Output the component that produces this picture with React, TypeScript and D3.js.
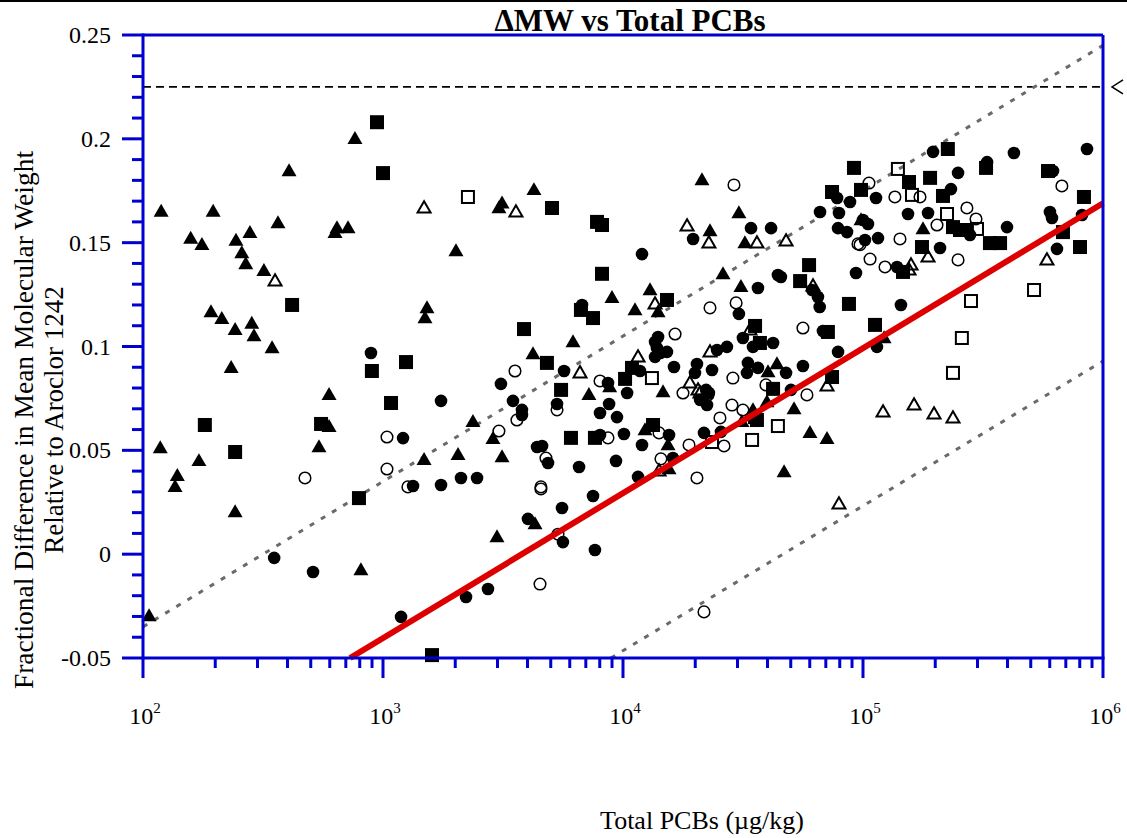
import React from "react";
import * as d3 from "d3";

// ---- data (Total PCBs in µg/kg, fractional ΔMW) ----
const filledTriangles: [number, number][] = [
  [764, 0.2], [406, 0.1845], [119, 0.165], [196, 0.165], [365, 0.1595], [643, 0.157], [715, 0.157],
  [631, 0.1547], [279, 0.1547], [158, 0.152], [176, 0.149], [244, 0.151], [258, 0.145], [268, 0.1397],
  [319, 0.1364], [192, 0.1166], [213, 0.1133], [242, 0.108], [284, 0.111], [290, 0.105], [345, 0.0993],
  [233, 0.0897], [596, 0.0767], [596, 0.0613], [118, 0.0511], [541, 0.0516], [171, 0.0449], [139, 0.0377],
  [136, 0.0324], [242, 0.0203], [809, -0.0076], [106, -0.0298],
  [3133, 0.169], [3041, 0.1667], [4255, 0.1754], [2014, 0.146], [8995, 0.1234], [1525, 0.1185],
  [1496, 0.1137], [6190, 0.1022], [4217, 0.0964], [8800, 0.0805], [7210, 0.0767], [2370, 0.0637],
  [2871, 0.0555], [1483, 0.0454], [2054, 0.0478], [3133, 0.0468], [4300, 0.0145], [2985, 0.0083],
  [21330, 0.1802], [30400, 0.1643], [23040, 0.1556], [32200, 0.1498], [26100, 0.1349], [31000, 0.1287],
  [12960, 0.1272], [11220, 0.1176], [14000, 0.1166], [14680, 0.0781], [40200, 0.0877], [43800, 0.0916],
  [12350, 0.0598], [15400, 0.0526], [15550, 0.041], [34800, 0.0694], [31300, 0.0637], [39800, 0.0733],
  [51600, 0.0699], [60100, 0.0584], [70800, 0.0555], [46900, 0.0396], [98100, 0.1609],
  [177800, 0.1566], [122400, 0.1041],
];

const openTriangles: [number, number][] = [
  [355, 0.1315], [1483, 0.1667], [3580, 0.1648], [6620, 0.0873], [18490, 0.158], [22800, 0.1498],
  [36150, 0.1498], [47800, 0.1508], [61900, 0.1291], [13600, 0.1205], [11550, 0.095], [19000, 0.0824],
  [20540, 0.0791], [20940, 0.0776], [23040, 0.0974], [33800, 0.108], [70800, 0.081], [14130, 0.04],
  [79400, 0.0242], [186600, 0.1431], [158500, 0.1392], [155500, 0.1368], [584000, 0.1417],
  [121200, 0.0685], [163200, 0.0718], [197700, 0.0675], [237100, 0.0656],
];

const filledSquares: [number, number][] = [
  [418, 0.12], [899, 0.0882], [1000, 0.1835], [944, 0.208], [181, 0.0622], [552, 0.0627], [242, 0.0492],
  [794, 0.027], [1080, 0.0728], [5060, 0.1667], [7795, 0.16], [8175, 0.1585], [8175, 0.135], [6680, 0.1176],
  [7500, 0.1137], [3868, 0.1084], [4820, 0.0921], [1247, 0.0925], [5520, 0.0791], [10200, 0.0844],
  [6070, 0.056], [7640, 0.056], [1600, -0.0486],
  [91700, 0.186], [74300, 0.1744], [98100, 0.1754], [59600, 0.1392], [54700, 0.1315], [15250, 0.1224],
  [87400, 0.1205], [71400, 0.107], [10900, 0.0897], [35500, 0.1099], [37200, 0.1017], [74300, 0.0853],
  [42200, 0.0796], [13340, 0.0622], [35500, 0.066], [36150, 0.0646],
  [225700, 0.1951], [325600, 0.186], [155500, 0.1792], [190300, 0.1812], [590000, 0.1845], [215400, 0.1725],
  [833000, 0.172], [237100, 0.1575], [253500, 0.1561], [271000, 0.1561], [338000, 0.1498], [372500, 0.1498],
  [176100, 0.1479], [146800, 0.1359], [681000, 0.1551], [802000, 0.1479], [112200, 0.1104],
];

const openSquares: [number, number][] = [
  [2259, 0.172], [13200, 0.0848], [23490, 0.054], [34500, 0.055], [44200, 0.0617], [139800, 0.1855],
  [160000, 0.173], [223900, 0.1638], [298500, 0.1566], [516000, 0.1272], [281800, 0.1219],
  [258200, 0.1041], [237100, 0.0873],
];

const filledCircles: [number, number][] = [
  [891, 0.0969], [352, -0.0018], [511, -0.0086], [1745, 0.0738], [6750, 0.12], [5680, 0.0882],
  [3100, 0.082], [8660, 0.0824], [10400, 0.0776], [3480, 0.0738], [5310, 0.0723], [8750, 0.0723],
  [3793, 0.0695], [3793, 0.067], [8020, 0.068], [9440, 0.066], [1212, 0.0559], [8020, 0.0574],
  [10090, 0.0579], [4385, 0.0516], [4600, 0.0521], [4870, 0.0439], [6560, 0.042], [9350, 0.0449],
  [1334, 0.0328], [1745, 0.0333], [2113, 0.0367], [2465, 0.0367], [7500, 0.028], [5570, 0.0222],
  [4018, 0.017], [5620, 0.0058], [7640, 0.002], [2218, -0.0206], [2738, -0.0168], [1189, -0.0302],
  [78000, 0.1715], [88300, 0.1696], [66200, 0.1648], [79400, 0.1643], [34150, 0.157], [41400, 0.157],
  [19590, 0.1518], [78700, 0.157], [85800, 0.1551], [12000, 0.1445], [44200, 0.1344], [45500, 0.1335],
  [61400, 0.1272], [64900, 0.1238], [66000, 0.119], [93500, 0.1354], [36500, 0.1282], [30400, 0.1157],
  [68100, 0.1075], [14000, 0.1046], [13600, 0.1022], [13850, 0.0993], [14300, 0.0969], [15250, 0.0974],
  [13600, 0.095], [11770, 0.0882], [16310, 0.0901], [20330, 0.0916], [19950, 0.0873], [23490, 0.0887],
  [24650, 0.0983], [27100, 0.0998], [22200, 0.0791], [22800, 0.0776], [33150, 0.0921], [32850, 0.0873],
  [36500, 0.0897], [47800, 0.0873], [56200, 0.0906], [50100, 0.0791], [31600, 0.1041], [34800, 0.0998],
  [42200, 0.1017], [78700, 0.0974], [20940, 0.0743], [22390, 0.0718], [15550, 0.0574], [12000, 0.0526],
  [16140, 0.0463], [11550, 0.0372], [21750, 0.0584], [25590, 0.0589],
  [195800, 0.1937], [425400, 0.1932], [857700, 0.1951], [328800, 0.1888], [248900, 0.1836],
  [619000, 0.1845], [113300, 0.1715], [232600, 0.1758], [100000, 0.1609], [104900, 0.159],
  [154000, 0.1638], [186600, 0.1643], [279100, 0.1537], [398100, 0.1575], [601000, 0.1648],
  [613000, 0.1619], [817700, 0.1633], [101900, 0.1513], [115500, 0.1522], [209400, 0.1474],
  [138600, 0.1383], [643000, 0.147], [143900, 0.12], [114300, 0.0998],
];

const openCircles: [number, number][] = [
  [473, 0.0367], [1039, 0.0564], [1039, 0.041], [3548, 0.0882], [8020, 0.0834], [3614, 0.0646],
  [5310, 0.0695], [3041, 0.0593], [8660, 0.056], [4775, 0.0463], [1270, 0.0324], [4550, 0.0324],
  [4550, 0.0314], [5360, 0.0096], [4510, -0.0144],
  [29000, 0.1778], [95300, 0.1494], [23040, 0.1186], [29600, 0.121], [56200, 0.1089], [16480, 0.106],
  [17780, 0.0776], [28700, 0.0848], [39400, 0.0815], [58400, 0.0767], [14130, 0.0584], [18840, 0.0526],
  [14390, 0.0459], [20330, 0.0367], [25350, 0.0656], [26360, 0.0521], [28450, 0.0718], [31600, 0.0694],
  [21750, -0.0278], [22600, 0.0767],
  [105900, 0.1787], [674000, 0.1773], [135800, 0.172], [172800, 0.172], [271000, 0.1667],
  [295700, 0.1614], [203400, 0.1585], [142600, 0.1518], [248900, 0.1417], [107000, 0.1421],
  [123500, 0.1383], [97200, 0.149],
];

// reference lines (endpoints in data units)
const fitLine: [number, number][] = [[729, -0.05], [1e6, 0.169]];
const upperBand: [number, number][] = [[100, -0.035], [1e6, 0.245]];
const lowerBand: [number, number][] = [[8900, -0.05], [1e6, 0.093]];
const aroclorLevel = 0.225;

const yTickValues = [-0.05, 0, 0.05, 0.1, 0.15, 0.2, 0.25];
const yTickLabels = ["-0.05", "0", "0.05", "0.1", "0.15", "0.2", "0.25"];
const xTickExponents = [2, 3, 4, 5, 6];

const title = "\u0394MW vs Total PCBs";
const yLabel1 = "Fractional Difference in Mean Molecular Weight";
const yLabel2 = "Relative to Aroclor 1242";
const xLabel = "Total PCBs (\u00b5g/kg)";

const W = 1127, H = 838;
const L = 143, R = 1103, T = 35, B = 658;
const BLUE = "#0000d0";
const FONT = "'Liberation Serif', 'Times New Roman', serif";

export default function App() {
  const x = d3.scaleLog().domain([100, 1e6]).range([L, R]);
  const y = d3.scaleLinear().domain([-0.05, 0.25]).range([B, T]);
  const line = d3.line<[number, number]>().x((d) => x(d[0])).y((d) => y(d[1]));

  const minorY = d3.range(-5, 26).map((i) => i / 100).filter((v) => Math.abs(v * 20 - Math.round(v * 20)) > 1e-6);
  const minorX: number[] = [];
  for (let e = 2; e < 6; e++) for (let m = 2; m <= 9; m++) minorX.push(m * Math.pow(10, e));

  const tri = (cx: number, cy: number, s: number) => {
    const h = s * 0.866;
    return `M${cx},${cy - h * 0.6}L${cx + s / 2},${cy + h * 0.4}L${cx - s / 2},${cy + h * 0.4}Z`;
  };

  return (
    <div>
      <style>{"body{margin:0}"}</style>
      <svg width={W} height={H} style={{ display: "block", background: "#fff" }}>
        <line x1={0} x2={W} y1={1} y2={1} stroke="#000" strokeWidth={2} />
        <text x={630} y={31} textAnchor="middle" fontFamily={FONT} fontWeight="bold" fontSize={31}>{title}</text>

        {/* reference lines */}
        <line x1={x(100)} x2={x(1e6)} y1={y(aroclorLevel)} y2={y(aroclorLevel)} stroke="#000" strokeWidth={1.6} strokeDasharray="8 5" />
        <path d={`M${R + 20},${y(aroclorLevel) - 7}L${R + 9},${y(aroclorLevel)}L${R + 20},${y(aroclorLevel) + 7}`} fill="none" stroke="#000" strokeWidth={1.5} />
        <path d={line(upperBand) || ""} stroke="#6a6a6a" strokeWidth={3} strokeDasharray="5 8" fill="none" />
        <path d={line(lowerBand) || ""} stroke="#6a6a6a" strokeWidth={3} strokeDasharray="5 8" fill="none" />

        {/* markers */}
        <g fill="none" stroke="#000" strokeWidth={1.5}>
          {openCircles.map((d, i) => <circle key={"oc" + i} cx={x(d[0])} cy={y(d[1])} r={5.8} />)}
        </g>
        <g fill="none" stroke="#000" strokeWidth={2}>
          {openSquares.map((d, i) => <rect key={"os" + i} x={x(d[0]) - 6} y={y(d[1]) - 6} width={12} height={12} />)}
          {openTriangles.map((d, i) => <path key={"ot" + i} d={tri(x(d[0]), y(d[1]), 13)} strokeLinejoin="miter" />)}
        </g>
        <g fill="#000">
          {filledCircles.map((d, i) => <circle key={"fc" + i} cx={x(d[0])} cy={y(d[1])} r={6.3} />)}
          {filledSquares.map((d, i) => <rect key={"fs" + i} x={x(d[0]) - 7} y={y(d[1]) - 7} width={14} height={14} />)}
          {filledTriangles.map((d, i) => <path key={"ft" + i} d={tri(x(d[0]), y(d[1]), 15)} />)}
        </g>

        <path d={line(fitLine) || ""} stroke="#dd0000" strokeWidth={6} fill="none" />

        {/* frame */}
        <line x1={L} x2={R} y1={T} y2={T} stroke={BLUE} strokeWidth={3} />
        <line x1={R} x2={R} y1={T} y2={B} stroke={BLUE} strokeWidth={3} />
        <line x1={L} x2={L} y1={T - 1.5} y2={B + 1.5} stroke={BLUE} strokeWidth={3} />
        <line x1={L} x2={R + 1.5} y1={B} y2={B} stroke={BLUE} strokeWidth={3} />

        {/* y ticks */}
        {yTickValues.map((v, i) => (
          <g key={"yt" + i}>
            <line x1={L - 21} x2={L} y1={y(v)} y2={y(v)} stroke={BLUE} strokeWidth={3} />
            <text x={111} y={y(v) + 8} textAnchor="end" fontFamily={FONT} fontSize={24}>{yTickLabels[i]}</text>
          </g>
        ))}
        {minorY.map((v, i) => (
          <line key={"ym" + i} x1={L - 11} x2={L} y1={y(v)} y2={y(v)} stroke={BLUE} strokeWidth={3} />
        ))}

        {/* x ticks */}
        {xTickExponents.map((e) => (
          <g key={"xt" + e}>
            <line x1={x(Math.pow(10, e))} x2={x(Math.pow(10, e))} y1={B} y2={B + 20} stroke={BLUE} strokeWidth={3} />
            <text x={x(Math.pow(10, e)) + 2} y={724} textAnchor="middle" fontFamily={FONT} fontSize={24}>
              10<tspan dy={-11} fontSize={15}>{e}</tspan>
            </text>
          </g>
        ))}
        {minorX.map((v, i) => (
          <line key={"xm" + i} x1={x(v)} x2={x(v)} y1={B} y2={B + 10} stroke={BLUE} strokeWidth={3} />
        ))}

        {/* axis titles */}
        <text transform="translate(33,420) rotate(-90)" textAnchor="middle" fontFamily={FONT} fontSize={27.5}>{yLabel1}</text>
        <text transform="translate(63,420) rotate(-90)" textAnchor="middle" fontFamily={FONT} fontSize={27}>{yLabel2}</text>
        <text x={702} y={829} textAnchor="middle" fontFamily={FONT} fontSize={26}>{xLabel}</text>
      </svg>
    </div>
  );
}
